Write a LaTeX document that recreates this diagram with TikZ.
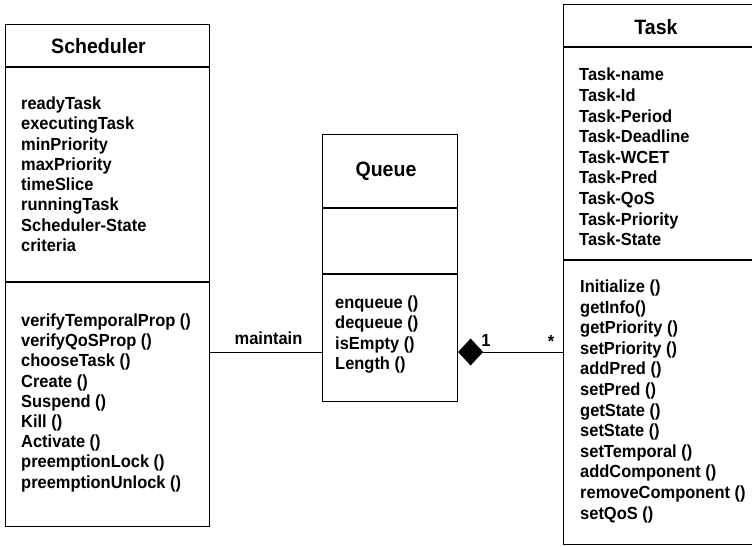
\documentclass[tikz,border=0pt]{standalone}
\usepackage{fontspec}
\setmainfont{Liberation Sans}[FakeStretch=0.94]
\usetikzlibrary{arrows.meta}
\tikzset{
  classbox/.style={draw, line width=1.1pt, inner sep=0pt, anchor=north west},
  compline/.style={line width=1.1pt},
  member/.style={anchor=west, inner sep=0pt,
    font=\bfseries\fontsize{17.5}{20}\selectfont,
    text height=12.5pt, text depth=3.7pt},
  classname/.style={inner sep=0pt, font=\bfseries\fontsize{20.8}{22}\selectfont},
  link/.style={line width=0.8pt},
  mult/.style={inner sep=0pt, font=\bfseries\fontsize{17.5}{20}\selectfont}
}
\begin{document}
\begin{tikzpicture}[x=1pt, y=-1pt]
\useasboundingbox (0,0) rectangle (752,546);

% Scheduler class
\node[classbox, minimum width=204pt, minimum height=502pt] (sched) at (5,24) {};
\draw[compline] (sched.west |- 0,67) -- (sched.east |- 0,67);
\draw[compline] (sched.west |- 0,282) -- (sched.east |- 0,282);
\node[classname] (schedname) at (98.5,46) {Scheduler};
\foreach \t [count=\i] in {readyTask, executingTask, minPriority, maxPriority,
    timeSlice, runningTask, Scheduler-State, criteria}
  \node[member] (sattr\i) at (21,{105+20.3*(\i-1)}) {\t};
\foreach \t [count=\i] in {verifyTemporalProp (), verifyQoSProp (), chooseTask (),
    Create (), Suspend (), Kill (), Activate (), preemptionLock (), preemptionUnlock ()}
  \node[member] (sop\i) at (21,{322+20.2*(\i-1)}) {\t};

% Queue class
\node[classbox, minimum width=135pt, minimum height=267pt] (queue) at (322,134) {};
\draw[compline] (queue.west |- 0,208) -- (queue.east |- 0,208);
\draw[compline] (queue.west |- 0,274) -- (queue.east |- 0,274);
\node[classname] (queuename) at (386,171) {Queue};
\foreach \t [count=\i] in {enqueue (), dequeue (), isEmpty (), Length ()}
  \node[member] (qop\i) at (335,{304+20.3*(\i-1)}) {\t};

% Task class
\node[classbox, minimum width=200pt, minimum height=540pt] (task) at (563,4) {};
\draw[compline] (task.west |- 0,47) -- (task.east |- 0,47);
\draw[compline] (task.west |- 0,260) -- (task.east |- 0,260);
\node[classname] (taskname) at (656,27) {Task};
\foreach \t [count=\i] in {Task-name, Task-Id, Task-Period, Task-Deadline, Task-WCET,
    Task-Pred, Task-QoS, Task-Priority, Task-State}
  \node[member] (tattr\i) at (579,{76.5+20.6*(\i-1)}) {\t};
\foreach \t [count=\i] in {Initialize (), getInfo(), getPriority (), setPriority (),
    addPred (), setPred (), getState (), setState (), setTemporal (),
    addComponent (), removeComponent (), setQoS ()}
  \node[member] (top\i) at (580,{288+20.6*(\i-1)}) {\t};

% Associations
\coordinate (assoc) at (0,352);
\draw[link] (sched.east |- assoc) -- (queue.west |- assoc);
\node[mult] (maintain) at (268.5,338) {maintain};
\draw[link, -{Diamond[length=25pt, width=27pt, fill=black]}]
  (task.west |- assoc) -- (queue.east |- assoc);
\node[mult] (one) at (486,340) {1};
\node[mult] (many) at (551,341) {*};
\end{tikzpicture}
\end{document}
